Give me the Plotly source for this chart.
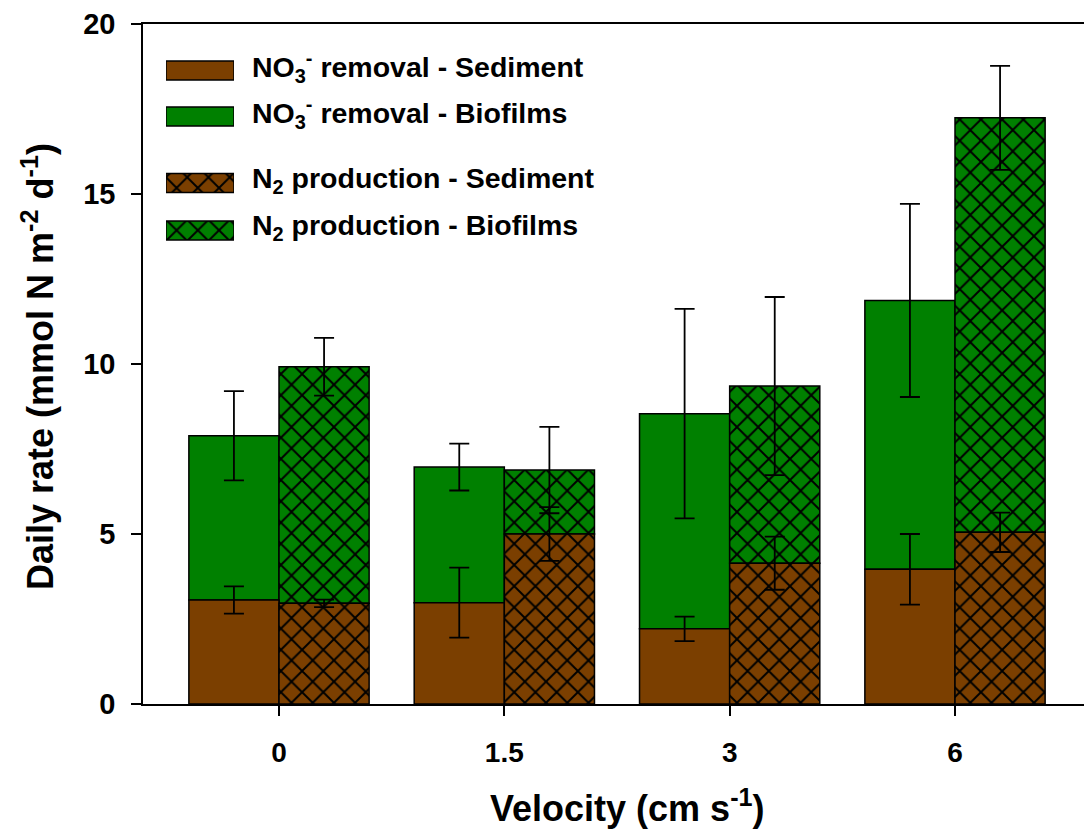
import plotly.graph_objects as go

# ---------------- data ----------------
velocity = ["0", "1.5", "3", "6"]

no3_sediment = [3.06, 2.98, 2.21, 3.96]
no3_sediment_err = [0.40, 1.03, 0.36, 1.04]
no3_biofilm = [4.83, 3.99, 6.33, 7.91]          # stacked on top of sediment
no3_biofilm_err = [1.31, 0.69, 3.08, 2.84]

n2_sediment = [2.96, 5.00, 4.14, 5.05]
n2_sediment_err = [0.11, 0.79, 0.78, 0.58]
n2_biofilm = [6.96, 1.88, 5.21, 12.19]          # stacked on top of sediment
n2_biofilm_err = [0.85, 1.27, 2.62, 1.53]

y_ticks = [0, 5, 10, 15, 20]

legend_labels = [
    "NO<sub>3</sub><sup>-</sup> removal - Sediment",
    "NO<sub>3</sub><sup>-</sup> removal - Biofilms",
    "N<sub>2</sub> production - Sediment",
    "N<sub>2</sub> production - Biofilms",
]

# ---------------- style ----------------
BROWN = "#7B3F00"
GREEN = "#008000"
FONT = "Liberation Sans, Arial, sans-serif"
W, H = 1084, 832
ML, MR, MT, MB = 143, 0, 24, 128
PW, PH = W - ML - MR, H - MT - MB
SOLIDITY = 0.24


def px_x(p):
    return (p - ML) / PW


def px_y(p):
    return (H - MB - p) / PH


def bar(y, err, color, group, base=None, hatch=False):
    return go.Bar(
        x=velocity, y=y, base=base, offsetgroup=group,
        marker=dict(
            color=color,
            line=dict(color="black", width=1.5),
            pattern=dict(shape="x" if hatch else "", size=15, solidity=SOLIDITY,
                         fgcolor="black", bgcolor=color, fgopacity=1),
        ),
        error_y=dict(type="data", array=err, color="black", thickness=1.8, width=10),
        showlegend=False, hoverinfo="y",
    )


fig = go.Figure()
# biofilm segments first so the sediment error bars stay visible above them
fig.add_trace(bar(no3_biofilm, no3_biofilm_err, GREEN, "no3", base=no3_sediment))
fig.add_trace(bar(n2_biofilm, n2_biofilm_err, GREEN, "n2", base=n2_sediment, hatch=True))
fig.add_trace(bar(no3_sediment, no3_sediment_err, BROWN, "no3"))
fig.add_trace(bar(n2_sediment, n2_sediment_err, BROWN, "n2", hatch=True))

# ---------------- custom legend (wide swatches) ----------------
legend_rows = [0, 1, 2.446, 3.478]
legend_colors = [BROWN, GREEN, BROWN, GREEN]
legend_hatch = [False, False, True, True]
for row, col, hatch in zip(legend_rows, legend_colors, legend_hatch):
    fig.add_trace(go.Bar(
        x=[1], y=[row], orientation="h", width=0.413,
        xaxis="x2", yaxis="y2",
        marker=dict(
            color=col,
            line=dict(color="black", width=1.5),
            pattern=dict(shape="x" if hatch else "", size=15, solidity=SOLIDITY,
                         fgcolor="black", bgcolor=col, fgopacity=1),
        ),
        showlegend=False, hoverinfo="skip",
    ))

annotations = []
for lab, row in zip(legend_labels, legend_rows):
    annotations.append(dict(
        text=lab, xref="paper", yref="y2", x=px_x(250), y=row,
        xanchor="left", yanchor="middle", yshift=3, showarrow=False,
        font=dict(family=FONT, size=28.5, color="black", weight="bold"),
    ))

# axis titles
annotations.append(dict(
    text="Velocity (cm s<sup>-1</sup>)", xref="paper", yref="paper",
    x=px_x(627), y=px_y(806), xanchor="center", yanchor="middle", showarrow=False,
    font=dict(family=FONT, size=36, color="black", weight="bold"),
))
annotations.append(dict(
    text="Daily rate (mmol N m<sup>-2</sup> d<sup>-1</sup>)", xref="paper", yref="paper",
    x=px_x(38), y=px_y(367), xanchor="center", yanchor="middle", textangle=-90,
    showarrow=False,
    font=dict(family=FONT, size=36, color="black", weight="bold"),
))

unit = (955 - 279) / 3.0
fig.update_layout(
    width=W, height=H,
    margin=dict(l=ML, r=MR, t=MT, b=MB, pad=0),
    paper_bgcolor="white", plot_bgcolor="white",
    barmode="group", bargap=0.2, bargroupgap=0,
    showlegend=False,
    font=dict(family=FONT, color="black"),
    xaxis=dict(
        type="category", range=[(ML - 279) / unit, (W - MR - 279) / unit],
        showline=True, linecolor="black", linewidth=1.5, mirror=True,
        ticks="outside", ticklen=10, tickwidth=1.5, tickcolor="black",
        showgrid=False, zeroline=False, ticklabelstandoff=13,
        tickfont=dict(family=FONT, size=28, color="black", weight="bold"),
    ),
    yaxis=dict(
        range=[0, 20], tickvals=y_ticks,
        showline=True, linecolor="black", linewidth=1.5, mirror=False,
        ticks="outside", ticklen=10, tickwidth=1.5, tickcolor="black",
        showgrid=False, zeroline=False, ticklabelstandoff=10,
        tickfont=dict(family=FONT, size=29, color="black", weight="bold"),
    ),
    xaxis2=dict(domain=[px_x(166), px_x(234)], anchor="y2", range=[0, 1],
                visible=False, fixedrange=True),
    yaxis2=dict(domain=[px_y(250), px_y(50)], anchor="x2",
                range=[(250 - 70.5) / 46.0, (50 - 70.5) / 46.0],
                visible=False, fixedrange=True),
    annotations=annotations,
)

fig.write_html("out.html")
